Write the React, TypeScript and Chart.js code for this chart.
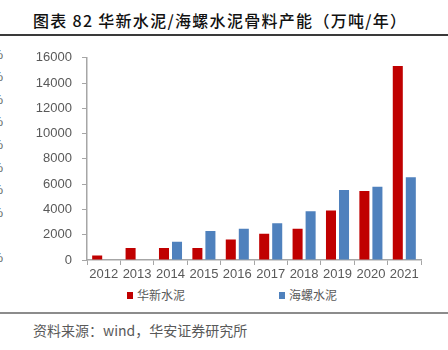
import React, { useEffect, useRef } from "react";
import { Chart, registerables } from "chart.js";

Chart.register(...registerables);

const years = ["2012", "2013", "2014", "2015", "2016", "2017", "2018", "2019", "2020", "2021"];
const huaxin = [350, 950, 950, 950, 1620, 2080, 2480, 3920, 5460, 15350];
const conch = [null, null, 1450, 2300, 2480, 2900, 3850, 5540, 5800, 6540];
const seriesNames = ["华新水泥", "海螺水泥"];
const seriesColors = ["#C00000", "#4F81BD"];
const yTicksMax = 16000;
const yStep = 2000;
const titleText = "图表 82 华新水泥/海螺水泥骨料产能（万吨/年）";
const sourceText = "资料来源：wind，华安证券研究所";
const leftFragments = [55, 77, 100, 122, 145, 168, 190, 213, 258];

export default function App() {
  const ref = useRef<HTMLCanvasElement>(null);
  useEffect(() => {
    if (!ref.current) return;
    const axisColor = "#A6A6A6";
    const chart = new Chart(ref.current, {
      type: "bar",
      data: {
        labels: years,
        datasets: [
          { label: seriesNames[0], data: huaxin, backgroundColor: seriesColors[0], barPercentage: 0.77, categoryPercentage: 0.78 },
          { label: seriesNames[1], data: conch as any, backgroundColor: seriesColors[1], barPercentage: 0.77, categoryPercentage: 0.78 },
        ],
      },
      options: {
        animation: false,
        responsive: false,
        maintainAspectRatio: false,
        layout: { padding: { left: 0, right: 27, top: 12, bottom: 0 } },
        plugins: { legend: { display: false }, tooltip: { enabled: false } },
        scales: {
          x: {
            offset: true,
            grid: { display: true, offset: true, drawOnChartArea: false, drawTicks: true, tickLength: 5, color: axisColor },
            border: { display: true, color: axisColor, width: 1.5 },
            ticks: { color: "#595959", font: { family: "Liberation Sans, Arial", size: 13 }, padding: 2, maxRotation: 0, autoSkip: false },
            afterFit: (s: any) => { s.height = 25; },
          },
          y: {
            min: 0,
            max: yTicksMax,
            grid: { display: true, drawOnChartArea: false, drawTicks: true, tickLength: 5, color: axisColor },
            border: { display: true, color: axisColor, width: 1.5 },
            ticks: {
              stepSize: yStep,
              color: "#595959",
              font: { family: "Liberation Sans, Arial", size: 13 },
              padding: 10,
              callback: (v: any) => String(v),
            },
            afterFit: (s: any) => { s.width = 87; },
          },
        },
      },
    });
    return () => chart.destroy();
  }, []);

  return (
    <div style={{ position: "fixed", left: 0, top: 0, width: 448, height: 350, background: "#fff", overflow: "hidden", fontFamily: "'Noto Sans CJK SC', sans-serif" }}>
      <div style={{ position: "absolute", left: 33, top: 10, fontSize: 16, lineHeight: "20px", fontWeight: 500, letterSpacing: 1.3, color: "#111", whiteSpace: "nowrap" }}>{titleText}</div>
      <div style={{ position: "absolute", left: 0, top: 34, width: 448, height: 2, background: "#3a3a3a" }} />
      {leftFragments.map((y, i) => (
        <div key={i} style={{ position: "absolute", left: -8.5, top: y - 8, fontSize: 13, lineHeight: "16px", color: "#595959", fontFamily: "Liberation Sans, Arial" }}>%</div>
      ))}
      <canvas ref={ref} width={448} height={245} style={{ position: "absolute", left: 0, top: 40, width: 448, height: 245 }} />
      {seriesNames.map((n, i) => (
        <div key={n} style={{ position: "absolute", left: i === 0 ? 127 : 279, top: 287, height: 16, display: "flex", alignItems: "center", whiteSpace: "nowrap" }}>
          <span style={{ display: "inline-block", width: 6, height: 7, background: seriesColors[i], marginRight: 4 }} />
          <span style={{ fontSize: 12, color: "#595959", lineHeight: "16px" }}>{n}</span>
        </div>
      ))}
      <div style={{ position: "absolute", left: 0, top: 312, width: 448, height: 2, background: "#8c8c8c" }} />
      <div style={{ position: "absolute", left: 33, top: 321, fontSize: 14, lineHeight: "18px", color: "#595959", whiteSpace: "nowrap" }}>{sourceText}</div>
    </div>
  );
}
